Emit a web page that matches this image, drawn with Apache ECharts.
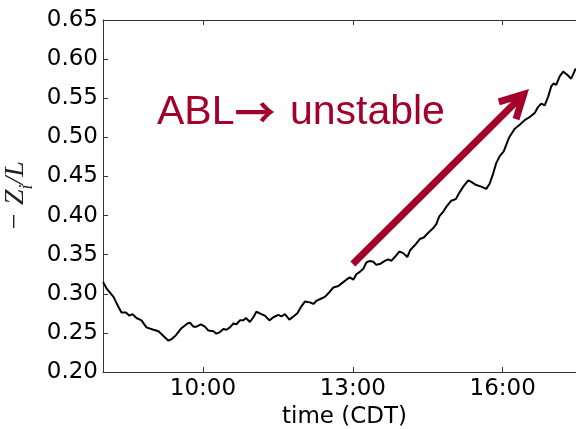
<!DOCTYPE html>
<html>
<head>
<meta charset="utf-8">
<script src="https://cdn.jsdelivr.net/npm/echarts@6/dist/echarts.min.js"></script>
<style>
  html, body { margin: 0; padding: 0; background: #fff; }
  #chart { width: 576px; height: 429px; }
</style>
</head>
<body>
<div id="chart"></div>
<script>
// Time of day in decimal hours (CDT)
const hours = [
  8.00, 8.07, 8.21, 8.31, 8.37, 8.46, 8.53, 8.59, 8.67, 8.77, 8.87,
  9.01, 9.11, 9.21, 9.31, 9.37, 9.46, 9.57, 9.69, 9.74, 9.81, 9.87, 9.96,
  10.04, 10.11, 10.21, 10.27, 10.34, 10.41, 10.47, 10.54, 10.61, 10.67, 10.74, 10.81, 10.86, 10.94,
  11.01, 11.07, 11.17, 11.24, 11.33, 11.41, 11.51, 11.57, 11.64, 11.73, 11.81, 11.89, 11.97,
  12.04, 12.14, 12.21, 12.27, 12.37, 12.44, 12.53, 12.61, 12.71, 12.77, 12.87, 12.94,
  13.01, 13.07, 13.14, 13.21, 13.27, 13.34, 13.41, 13.47, 13.54, 13.64, 13.71, 13.77, 13.84, 13.93,
  14.01, 14.09, 14.15, 14.24, 14.34, 14.42, 14.51, 14.61, 14.67, 14.73, 14.81, 14.87, 14.97,
  15.06, 15.14, 15.21, 15.31, 15.37, 15.47, 15.57, 15.67, 15.74, 15.81, 15.87, 15.94,
  16.02, 16.11, 16.14, 16.24, 16.34, 16.44, 16.54, 16.64, 16.71, 16.77, 16.84, 16.91, 16.97,
  17.02, 17.07, 17.14, 17.21, 17.29, 17.37, 17.42, 17.46
];

// Stability parameter -Zi/L
const stability = [
  0.315, 0.307, 0.296, 0.283, 0.276, 0.276, 0.272, 0.274, 0.269, 0.266, 0.257,
  0.254, 0.252, 0.246, 0.240, 0.242, 0.247, 0.256, 0.262, 0.263, 0.258, 0.258, 0.261,
  0.258, 0.253, 0.252, 0.249, 0.251, 0.255, 0.254, 0.257, 0.262, 0.261, 0.266, 0.266, 0.269, 0.264,
  0.270, 0.277, 0.274, 0.272, 0.266, 0.270, 0.273, 0.271, 0.274, 0.267, 0.271, 0.275, 0.284,
  0.290, 0.289, 0.287, 0.291, 0.294, 0.296, 0.302, 0.308, 0.310, 0.313, 0.318, 0.321,
  0.318, 0.325, 0.328, 0.332, 0.340, 0.342, 0.341, 0.337, 0.338, 0.342, 0.344, 0.342, 0.347, 0.354,
  0.352, 0.347, 0.356, 0.362, 0.370, 0.372, 0.378, 0.384, 0.389, 0.399, 0.405, 0.411, 0.419,
  0.421, 0.430, 0.437, 0.445, 0.443, 0.439, 0.437, 0.434, 0.441, 0.454, 0.467, 0.476,
  0.482, 0.497, 0.501, 0.511, 0.516, 0.522, 0.526, 0.531, 0.539, 0.543, 0.541, 0.552, 0.565,
  0.569, 0.567, 0.578, 0.584, 0.580, 0.575, 0.582, 0.588
];

// Axis ticks
const xTickHours = [10, 13, 16];

// Trend arrow endpoints (hour, -Zi/L) and its caption
const trendArrow = [[13.0, 0.338], [16.42, 0.555]];
const captionParts = ['ABL', '\u2192', ' unstable'];

const RED = '#a3002b';
const AXIS = '#333';
const TICK_FONT = 'DejaVu Sans';

const chart = echarts.init(document.getElementById('chart'), null, { renderer: 'canvas' });

function hourLabel(v) {
  const h = Math.floor(v);
  const m = Math.round((v - h) * 60);
  return h + ':' + (m < 10 ? '0' + m : m);
}

chart.setOption({
  animation: false,
  backgroundColor: '#fff',
  grid: { left: 103, top: 20, right: -10, bottom: 57, containLabel: false, outerBoundsMode: 'none' },
  xAxis: [
    {
      type: 'value',
      position: 'bottom',
      min: 8,
      max: 17 + 40 / 60,
      name: 'time (CDT)',
      nameLocation: 'middle',
      nameGap: 29,
      nameTextStyle: { fontFamily: TICK_FONT, fontSize: 23, color: '#000' },
      axisLine: { show: true, lineStyle: { color: AXIS, width: 1 } },
      axisTick: { show: true, inside: true, length: 5, customValues: xTickHours, lineStyle: { color: AXIS } },
      axisLabel: { customValues: xTickHours, formatter: hourLabel, fontFamily: TICK_FONT, fontSize: 23, color: '#000', margin: 6 },
      splitLine: { show: false }
    },
    {
      type: 'value',
      position: 'top',
      min: 8,
      max: 17 + 40 / 60,
      axisLine: { show: true, onZero: false, lineStyle: { color: AXIS, width: 1 } },
      axisTick: { show: true, inside: true, length: 5, customValues: xTickHours, lineStyle: { color: AXIS } },
      axisLabel: { show: false },
      splitLine: { show: false }
    }
  ],
  yAxis: {
    type: 'value',
    min: 0.2,
    max: 0.65,
    interval: 0.05,
    name: '\u2212 {z|Z}{s|i}{z|/L}',
    nameLocation: 'middle',
    nameGap: 59,
    nameRotate: 90,
    nameTextStyle: {
      fontFamily: 'Liberation Serif',
      fontStyle: 'italic',
      fontSize: 28,
      color: '#222',
      rich: {
        z: { fontFamily: 'Liberation Serif', fontStyle: 'italic', fontSize: 28, color: '#222' },
        s: { fontFamily: 'Liberation Serif', fontStyle: 'italic', fontSize: 18, color: '#222', verticalAlign: 'bottom', padding: [0, 0, -6, 0] }
      }
    },
    axisLine: { show: true, lineStyle: { color: AXIS, width: 1 } },
    axisTick: { show: true, inside: true, length: 5, lineStyle: { color: AXIS } },
    axisLabel: { formatter: v => v.toFixed(2), fontFamily: TICK_FONT, fontSize: 23, color: '#000', margin: 5 },
    splitLine: { show: false }
  },
  series: [
    {
      type: 'line',
      data: hours.map((h, i) => [h, stability[i]]),
      showSymbol: false,
      clip: true,
      lineStyle: { color: '#000', width: 2 },
      z: 3
    },
    {
      type: 'custom',
      data: [trendArrow[0].concat(trendArrow[1])],
      clip: false,
      z: 4,
      renderItem: function (params, api) {
        const p0 = api.coord([api.value(0), api.value(1)]);
        const p1 = api.coord([api.value(2), api.value(3)]);
        const ang = Math.atan2(p1[1] - p0[1], p1[0] - p0[0]);
        const L = 26, spread = 28 * Math.PI / 180;
        const a1 = [p1[0] - L * Math.cos(ang - spread), p1[1] - L * Math.sin(ang - spread)];
        const a2 = [p1[0] - L * Math.cos(ang + spread), p1[1] - L * Math.sin(ang + spread)];
        return {
          type: 'group',
          children: [
            { type: 'line', shape: { x1: p0[0], y1: p0[1], x2: p1[0], y2: p1[1] },
              style: { stroke: RED, lineWidth: 7, lineCap: 'butt' } },
            { type: 'polyline', shape: { points: [a1, p1, a2] },
              style: { stroke: RED, lineWidth: 7, lineJoin: 'miter', lineCap: 'butt', fill: null } }
          ]
        };
      }
    }
  ],
  graphic: [
    {
      type: 'text',
      left: 157,
      top: 92,
      style: {
        text: '{t|' + captionParts[0] + '}{a|' + captionParts[1] + '}{t|' + captionParts[2] + '}',
        rich: {
          t: { fontFamily: '"Liberation Sans", Arial, sans-serif', fontSize: 41, fill: RED, lineHeight: 44 },
          a: { fontFamily: '"Noto Sans CJK SC"', fontWeight: 'bold', fontSize: 41, fill: RED, lineHeight: 44, padding: [0, 3, 0, 0] }
        }
      }
    }
  ]
});
</script>
</body>
</html>
